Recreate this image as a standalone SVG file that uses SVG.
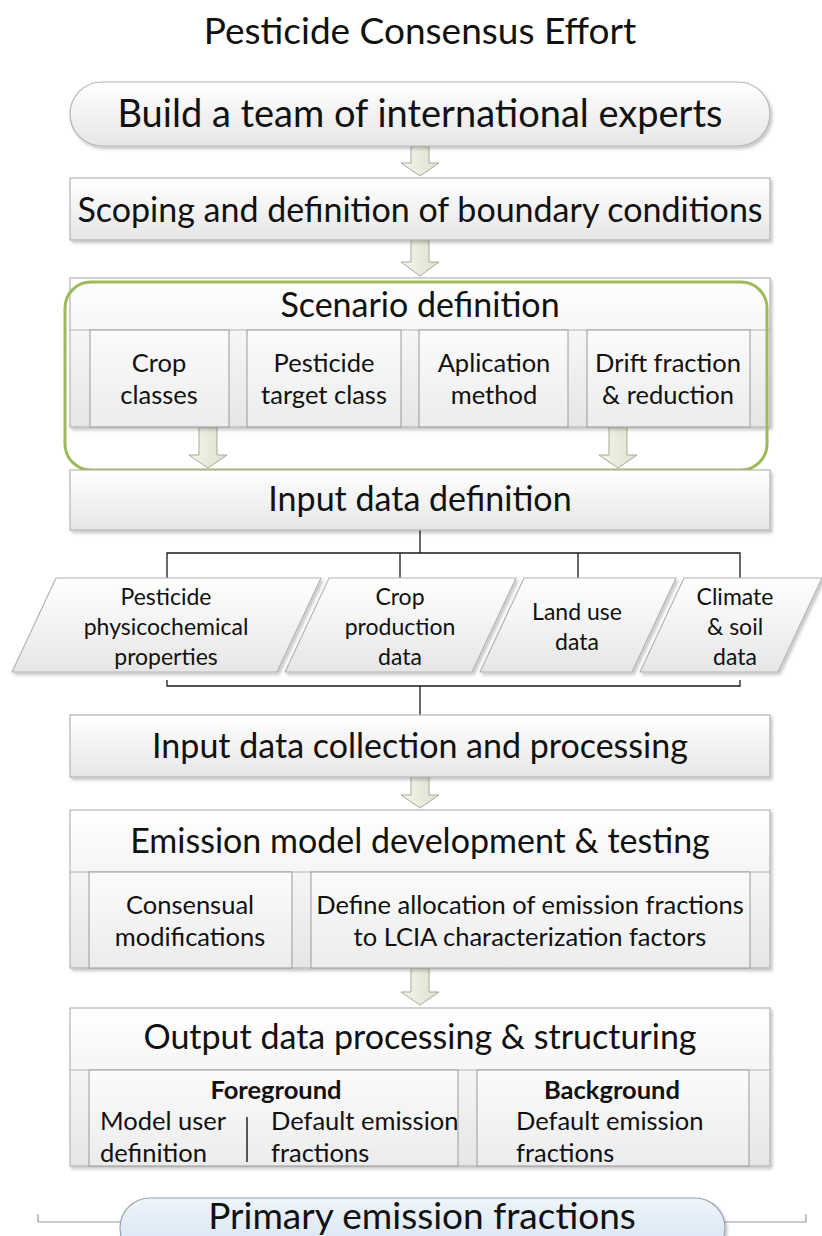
<svg xmlns="http://www.w3.org/2000/svg" width="822" height="1236" viewBox="0 0 822 1236">
  <style>
    text { font-family: Lato, "Open Sans", "Liberation Sans", sans-serif; fill: #111; text-anchor: middle; }
    .box { fill: url(#gBox); stroke: #b4b4b4; stroke-width: 1.2; filter: url(#shadow); }
    .cell { fill: url(#gCell); stroke: #9a9a9a; stroke-width: 1; }
    .arrow { fill: url(#gArrow); stroke: #a6a99c; stroke-width: 1; }
    .wire { fill: none; stroke: #1a1a1a; stroke-width: 1.3; }
    .big { font-size: 34px; }
    .mid { font-size: 25.5px; }
    .sm { font-size: 23px; }
    .bold { font-weight: bold; }
    .left { text-anchor: start; }
  </style>
  <defs>
    <linearGradient id="gBox" x1="0" y1="0" x2="0" y2="1">
      <stop offset="0" stop-color="#ffffff"/>
      <stop offset="1" stop-color="#e6e6e6"/>
    </linearGradient>
    <linearGradient id="gCell" x1="0" y1="0" x2="0" y2="1">
      <stop offset="0" stop-color="#fbfbfb"/>
      <stop offset="1" stop-color="#ececec"/>
    </linearGradient>
    <linearGradient id="gArrow" x1="0" y1="0" x2="1" y2="0">
      <stop offset="0" stop-color="#f4f5ec"/>
      <stop offset="1" stop-color="#dde2cc"/>
    </linearGradient>
    <linearGradient id="gBlue" x1="0" y1="0" x2="0" y2="1">
      <stop offset="0" stop-color="#eef4fa"/>
      <stop offset="1" stop-color="#d3e3f1"/>
    </linearGradient>
    <filter id="shadow" x="-5%" y="-10%" width="110%" height="130%">
      <feDropShadow dx="2" dy="2.5" stdDeviation="1.8" flood-color="#000" flood-opacity="0.22"/>
    </filter>
  </defs>

  <rect width="822" height="1236" fill="#ffffff"/>

  <!-- heading -->
  <text x="420" y="44" style="font-size:37px">Pesticide Consensus Effort</text>

  <!-- block arrows and tree wiring -->
  <g id="connectors">
    <path class="arrow" d="M411,146 H429 V163 H439 L420,176 L401,163 H411 Z"/>
    <path class="arrow" d="M411,240 H429 V262 H439 L420,276 L401,262 H411 Z"/>
    <path class="arrow" d="M199,427 H217 V455 H227 L208,468 L189,455 H199 Z"/>
    <path class="arrow" d="M609,427 H627 V455 H637 L618,468 L599,455 H609 Z"/>
    <path class="arrow" d="M411,777 H429 V795 H439 L420,808 L401,795 H411 Z"/>
    <path class="arrow" d="M411,968 H429 V992 H439 L420,1005 L401,992 H411 Z"/>
    <path class="wire" d="M420,530 V553 M167,578 V553 H740 V578 M400,553 V578 M578,553 V578"/>
    <path class="wire" d="M167,680 V686 H740 V680 M420,686 V715"/>
    <path fill="none" stroke="#9a9a9a" stroke-width="1.2" d="M38,1214 V1222 H120 M725,1222 H806 V1214"/>
  </g>

  <g id="n-team">
    <rect class="box" x="70" y="82" width="700" height="64" rx="32"/>
    <text x="420" y="127" style="font-size:38px">Build a team of international experts</text>
  </g>

  <g id="n-scoping">
    <rect class="box" x="70" y="178" width="700" height="62"/>
    <text class="big" x="420" y="222">Scoping and definition of boundary conditions</text>
  </g>

  <g id="n-scenario">
    <rect class="box" x="70" y="278" width="700" height="149"/>
    <line x1="70" y1="330" x2="770" y2="330" stroke="#b4b4b4"/>
    <rect class="cell" x="90" y="330" width="139" height="97"/>
    <rect class="cell" x="247" y="330" width="154" height="97"/>
    <rect class="cell" x="419" y="330" width="149" height="97"/>
    <rect class="cell" x="587" y="330" width="163" height="97"/>
    <text class="big" x="420" y="317">Scenario definition</text>
    <text class="mid" x="159" y="372">Crop</text>
    <text class="mid" x="159" y="404">classes</text>
    <text class="mid" x="324" y="372">Pesticide</text>
    <text class="mid" x="324" y="404">target class</text>
    <text class="mid" x="494" y="372">Aplication</text>
    <text class="mid" x="494" y="404">method</text>
    <text class="mid" x="668" y="372">Drift fraction</text>
    <text class="mid" x="668" y="404">&amp; reduction</text>
    <rect x="65" y="282" width="702" height="188" rx="26" fill="none" stroke="#9bbb59" stroke-width="3"/>
  </g>

  <g id="n-input-def">
    <rect class="box" x="70" y="470" width="700" height="60"/>
    <text class="big" x="420" y="511">Input data definition</text>
  </g>

  <g id="n-physchem">
    <path class="box" d="M56,578 H321 L277,672 H12 Z"/>
    <text class="sm" x="166" y="605">Pesticide</text>
    <text class="sm" x="166" y="635">physicochemical</text>
    <text class="sm" x="166" y="665">properties</text>
  </g>
  <g id="n-crop">
    <path class="box" d="M329,578 H516 L472,672 H285 Z"/>
    <text class="sm" x="400" y="605">Crop</text>
    <text class="sm" x="400" y="635">production</text>
    <text class="sm" x="400" y="665">data</text>
  </g>
  <g id="n-landuse">
    <path class="box" d="M524,578 H676 L632,672 H480 Z"/>
    <text class="sm" x="577" y="620">Land use</text>
    <text class="sm" x="577" y="650">data</text>
  </g>
  <g id="n-climate">
    <path class="box" d="M684,578 H822 L778,672 H640 Z"/>
    <text class="sm" x="735" y="605">Climate</text>
    <text class="sm" x="735" y="635">&amp; soil</text>
    <text class="sm" x="735" y="665">data</text>
  </g>

  <g id="n-collection">
    <rect class="box" x="70" y="715" width="700" height="62"/>
    <text class="big" x="420" y="758">Input data collection and processing</text>
  </g>

  <g id="n-emission">
    <rect class="box" x="70" y="810" width="700" height="158"/>
    <line x1="70" y1="872" x2="770" y2="872" stroke="#b4b4b4"/>
    <rect class="cell" x="89" y="872" width="203" height="96"/>
    <rect class="cell" x="311" y="872" width="439" height="96"/>
    <text class="big" x="420" y="853">Emission model development &amp; testing</text>
    <text class="mid" x="190" y="914">Consensual</text>
    <text class="mid" x="190" y="946">modifications</text>
    <text class="mid" x="530" y="914">Define allocation of emission fractions</text>
    <text class="mid" x="530" y="946">to LCIA characterization factors</text>
  </g>

  <g id="n-output">
    <rect class="box" x="70" y="1008" width="700" height="158"/>
    <line x1="70" y1="1070" x2="770" y2="1070" stroke="#b4b4b4"/>
    <rect class="cell" x="89" y="1070" width="369" height="96"/>
    <rect class="cell" x="477" y="1070" width="272" height="96"/>
    <text class="big" x="420" y="1049">Output data processing &amp; structuring</text>
    <text class="mid bold" x="276" y="1099">Foreground</text>
    <text class="mid left" x="100" y="1130">Model user</text>
    <text class="mid left" x="100" y="1162">definition</text>
    <line x1="247" y1="1117" x2="247" y2="1162" stroke="#222" stroke-width="1.5"/>
    <text class="mid left" x="271" y="1130">Default emission</text>
    <text class="mid left" x="271" y="1162">fractions</text>
    <text class="mid bold" x="612" y="1099">Background</text>
    <text class="mid left" x="516" y="1130">Default emission</text>
    <text class="mid left" x="516" y="1162">fractions</text>
  </g>

  <g id="n-primary">
    <rect x="120" y="1198" width="605" height="60" rx="30" fill="url(#gBlue)" stroke="#9aa4ae" stroke-width="1.2" filter="url(#shadow)"/>
    <text x="422" y="1229" style="font-size:37px">Primary emission fractions</text>
  </g>
</svg>
